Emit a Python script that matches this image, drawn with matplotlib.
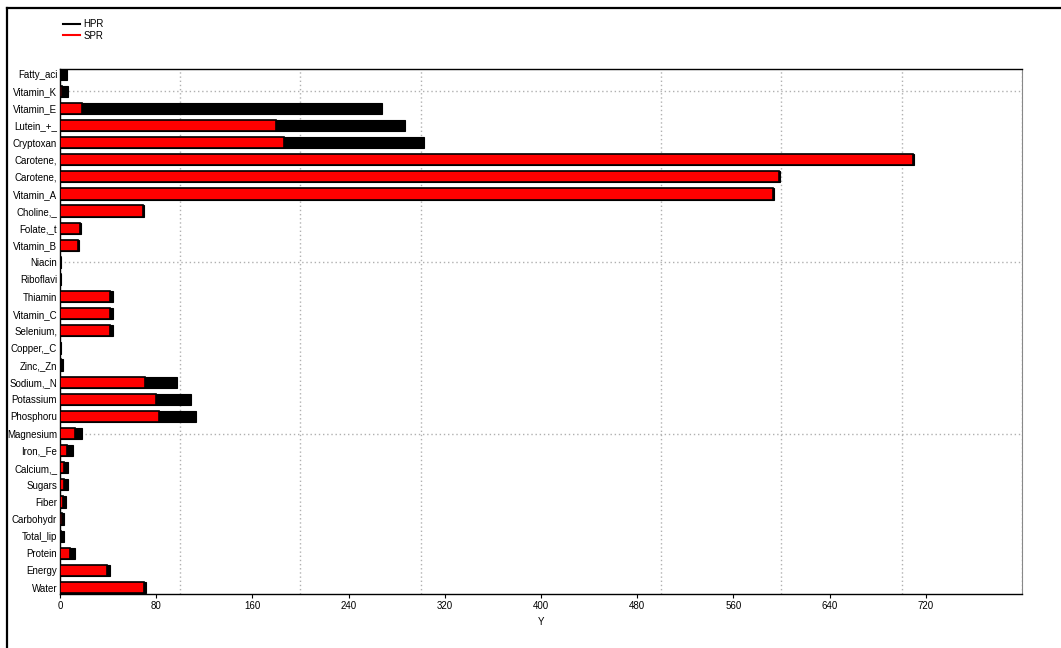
import matplotlib.pyplot as plt
from matplotlib.ticker import MultipleLocator, FixedLocator
from matplotlib.lines import Line2D

plt.rcParams['font.family'] = ['Liberation Sans', 'DejaVu Sans']

# nutrients, bottom to top
labels = ["Water", "Energy", "Protein", "Total_lip", "Carbohydr", "Fiber",
          "Sugars", "Calcium,_", "Iron,_Fe", "Magnesium", "Phosphoru",
          "Potassium", "Sodium,_N", "Zinc,_Zn", "Copper,_C", "Selenium,",
          "Vitamin_C", "Thiamin", "Riboflavi", "Niacin", "Vitamin_B",
          "Folate,_t", "Choline,_", "Vitamin_A", "Carotene,", "Carotene,",
          "Cryptoxan", "Lutein_+_", "Vitamin_E", "Vitamin_K", "Fatty_aci"]

hpr = [71.2, 42.0, 12.5, 3.3, 3.3, 5.0, 6.9, 6.4, 11.0, 18.3, 113.0,
       108.6, 97.2, 2.2, 0.6, 44.0, 44.0, 44.0, 0.9, 1.1, 15.8,
       17.2, 69.8, 594.0, 598.7, 710.0, 303.0, 286.6, 268.0, 6.4, 5.8]

spr = [69.8, 39.0, 8.3, 1.1, 2.0, 2.8, 3.6, 3.0, 5.8, 12.2, 82.3,
       79.5, 71.0, 0.8, 0.3, 42.0, 42.0, 42.0, 0.5, 0.6, 15.0,
       16.5, 69.0, 593.0, 597.8, 709.2, 186.0, 180.0, 18.3, 1.7, 0.5]

pos = list(range(1, len(labels) + 1))

fig = plt.figure(figsize=(10.61, 6.48), dpi=100)
ax = fig.add_axes([0.0565, 0.0833, 0.9067, 0.8102])

ax.barh(pos, hpr, height=0.66, color="black", edgecolor="black", linewidth=0.8, zorder=2)
ax.barh(pos, spr, height=0.66, color="#ff0000", edgecolor="black", linewidth=1.2, zorder=3)

ax.set_xlim(0, 800)
ax.set_ylim(0.62, 31.3)

ax.xaxis.set_major_locator(FixedLocator([0, 80, 160, 240, 320, 400, 480, 560, 640, 720]))
ax.xaxis.set_minor_locator(MultipleLocator(100))
ax.yaxis.set_major_locator(FixedLocator(pos))
ax.yaxis.set_minor_locator(FixedLocator([10, 20, 30]))
ax.yaxis.remove_overlapping_locs = False
ax.set_yticklabels(labels)

ax.grid(which="minor", color="#b0b0b0", linestyle=(0, (1, 2)), linewidth=1.0)
ax.grid(which="major", visible=False)
ax.set_axisbelow(True)

ax.tick_params(axis="y", which="both", length=0, pad=2, labelsize=7)
ax.tick_params(axis="x", which="major", length=3, pad=2, labelsize=7)
ax.tick_params(axis="x", which="minor", length=0)

ax.set_xlabel("Y", fontsize=7, labelpad=4)

for s in ["left", "bottom", "top"]:
    ax.spines[s].set_color("black")
    ax.spines[s].set_linewidth(1.0)
ax.spines["right"].set_color("#888888")

handles = [Line2D([], [], color="black", lw=1.5), Line2D([], [], color="#ff0000", lw=1.5)]
fig.legend(handles, ["HPR", "SPR"], loc="upper left", bbox_to_anchor=(0.056, 0.976),
           frameon=False, fontsize=7, handlelength=1.7, handletextpad=0.4,
           labelspacing=0.15, borderaxespad=0)

# outer frame (left and top edges are visible in the reference)
fig.add_artist(Line2D([0.0068, 0.0068], [0, 0.988], color="black", lw=1.6,
                      transform=fig.transFigure))
fig.add_artist(Line2D([0.0068, 1.0], [0.988, 0.988], color="black", lw=1.6,
                      transform=fig.transFigure))

fig.savefig("out.png", dpi=100)
